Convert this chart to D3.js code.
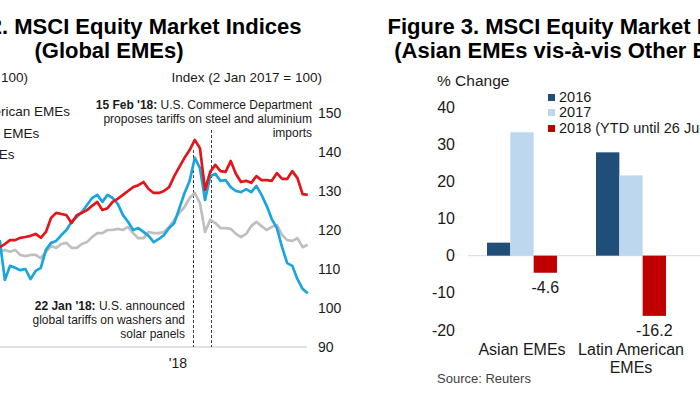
<!DOCTYPE html>
<html>
<head>
<meta charset="utf-8">
<script src="https://cdnjs.cloudflare.com/ajax/libs/d3/7.8.5/d3.min.js"></script>
<style>
  body { margin: 0; background: #fff; }
  svg { display: block; font-family: Arial, "Liberation Sans", sans-serif; }
</style>
</head>
<body>
<svg id="chart" width="700" height="397"></svg>
<script>
// ---- figure 2 data : weekly samples, index (2 Jan 2017 = 100)
var lineStart = "2017-05-03";   // first visible sample, then one point every 7 days
var latamEMEs = [117.4,107.2,110.8,110.3,109.7,110.0,107.4,109.5,110.3,114.9,116.7,117.2,118.7,120.0,122.1,123.3,124.6,126.4,128.2,129.0,
                 127.2,129.0,128.2,126.7,123.8,122.1,120.0,120.5,119.5,118.5,116.9,117.7,118.7,120.5,121.8,125.6,129.5,132.6,138.5,135.9,
                 127.7,133.8,134.4,132.6,132.8,131.0,130.0,129.7,130.5,129.7,131.3,129.0,126.2,122.8,120.5,115.6,111.5,110.8,107.4,104.9,103.8];
var europeEMEs = [114.4,114.9,114.4,114.9,113.6,113.3,113.6,113.6,112.8,114.4,115.9,115.4,116.4,116.7,115.4,115.4,116.4,116.9,118.2,119.2,
                  119.2,120.0,120.0,120.3,120.0,120.8,119.2,117.9,117.9,119.5,119.2,119.2,119.5,120.8,122.6,124.4,125.9,128.2,129.5,126.9,
                  119.5,122.6,121.8,120.5,120.5,120.3,119.0,118.2,119.0,121.0,122.1,121.0,120.0,120.8,121.3,118.7,117.4,117.2,117.9,115.6,116.2];
var asiaEMEs = [115.6,116.4,117.4,117.4,118.0,118.2,118.5,119.0,118.0,119.5,123.1,124.4,124.1,123.8,121.8,123.8,124.4,125.1,126.2,127.2,
                125.1,125.6,127.2,128.0,129.0,130.0,131.0,131.5,132.3,130.5,129.5,129.5,130.0,131.0,133.8,136.2,138.5,140.5,143.1,141.0,
                130.3,134.9,136.7,135.1,134.9,137.7,134.4,132.3,132.6,132.1,133.8,132.8,132.8,132.6,134.6,133.1,133.1,135.1,133.3,129.2,129.0];
var lineNames = ["Latin American EMEs", "European EMEs", "Asian EMEs"];
var lineColors = ["#1BA5DF", "#BFBFBF", "#E3151B"];
var yTicksLeft = [90, 100, 110, 120, 130, 140, 150];
var yearTicks = [{date: "2018-01-01", label: "'18"}];
var events = [
  {date: "2018-01-22", top: 150, bold: "22 Jan '18:", lines: [" U.S. announced", "global tariffs on washers and", "solar panels"]},
  {date: "2018-02-15", top: 130, bold: "15 Feb '18:", lines: [" U.S. Commerce Department", "proposes tariffs on steel and aluminium", "imports"]}
];

// ---- figure 3 data : % change
var regions = ["Asian EMEs", "Latin American EMEs", "European EMEs"];
var regionLines = [["Asian EMEs"], ["Latin American", "EMEs"], ["European", "EMEs"]];
var years = ["2016", "2017", "2018 (YTD until 26 Jun 2018)"];
var val2016 = [3.5, 27.8, null];
var val2017 = [33.2, 21.6, null];
var val2018 = [-4.6, -16.2, null];
var barColors = ["#1F4E79", "#BDD7EE", "#C00000"];
var yTicksRight = [-20, -10, 0, 10, 20, 30, 40];

var svg = d3.select("#chart");
var parse = d3.timeParse("%Y-%m-%d");
var font = "Arial, 'Liberation Sans', sans-serif";

// ================= Figure 2 =================
var g2 = svg.append("g").attr("class", "fig2");

g2.append("text").attr("x", 109).attr("y", 34).attr("text-anchor", "middle")
  .attr("font-size", 22).attr("font-weight", "bold").text("Figure 2. MSCI Equity Market Indices");
g2.append("text").attr("x", 109).attr("y", 58).attr("text-anchor", "middle")
  .attr("font-size", 22).attr("font-weight", "bold").text("(Global EMEs)");

var x2 = d3.scaleTime().domain([parse("2017-01-02"), parse("2018-06-26")]).range([-89, 307]);
var y2 = d3.scaleLinear().domain([90, 150]).range([347, 113]);

g2.append("text").attr("x", 28).attr("y", 82).attr("text-anchor", "end")
  .attr("font-size", 13.5).attr("fill", "#1a1a1a").text("Index (2 Jan 2017 = 100)");
g2.append("text").attr("x", 322).attr("y", 82).attr("text-anchor", "end")
  .attr("font-size", 13.5).attr("fill", "#1a1a1a").text("Index (2 Jan 2017 = 100)");

// right axis labels
var yAxis2 = d3.axisRight(y2).tickValues(yTicksLeft).tickSize(0).tickPadding(0);
var ya = g2.append("g").attr("transform", "translate(318,0)").call(yAxis2);
ya.select(".domain").remove();
ya.selectAll("text").attr("font-size", 14).attr("fill", "#1a1a1a").attr("font-family", font);

// x axis line and year label
g2.append("line").attr("x1", x2.range()[0]).attr("x2", x2.range()[1])
  .attr("y1", y2(90)).attr("y2", y2(90)).attr("stroke", "#D9D9D9").attr("stroke-width", 1.5);
g2.selectAll("text.year").data(yearTicks).enter().append("text")
  .attr("class", "year")
  .attr("x", function(d){ return x2(parse(d.date)); })
  .attr("y", 368).attr("text-anchor", "middle").attr("font-size", 14).attr("fill", "#1a1a1a")
  .text(function(d){ return d.label; });

// event lines
g2.selectAll("line.event").data(events).enter().append("line")
  .attr("class", "event")
  .attr("x1", function(d){ return Math.round(x2(parse(d.date))) + 0.5; })
  .attr("x2", function(d){ return Math.round(x2(parse(d.date))) + 0.5; })
  .attr("y1", function(d){ return d.top; }).attr("y2", y2(90))
  .attr("stroke", "#404040").attr("stroke-width", 1).attr("stroke-dasharray", "3,2");

// annotations
var notes = [
  {ev: events[0], x: 185, y: 310},
  {ev: events[1], x: 312, y: 109}
];
notes.forEach(function(n){
  var t = g2.append("text").attr("font-size", 12).attr("fill", "#1a1a1a").attr("text-anchor", "end");
  n.ev.lines.forEach(function(line, i){
    var ts = t.append("tspan").attr("x", n.x).attr("y", n.y + i * 14);
    if(i == 0)
    {
      ts.append("tspan").attr("font-weight", "bold").text(n.ev.bold);
      ts.append("tspan").text(line);
    }
    else
    {
      ts.text(line);
    }
  });
});

// lines
var start = parse(lineStart);
var seriesList = [latamEMEs, europeEMEs, asiaEMEs].map(function(vals, s){
  return {name: lineNames[s], color: lineColors[s], values: vals.map(function(v, i){
    return {date: d3.timeDay.offset(start, i * 7), value: v};
  })};
});
var line2 = d3.line().x(function(d){ return x2(d.date); }).y(function(d){ return y2(d.value); });
var drawOrder = [1, 0, 2];
drawOrder.forEach(function(s){
  g2.append("path").datum(seriesList[s].values)
    .attr("d", line2).attr("fill", "none")
    .attr("stroke", seriesList[s].color).attr("stroke-width", 2.7)
    .attr("stroke-linejoin", "round");
});

// legend (mostly outside the visible area)
var leg2 = g2.selectAll("g.leg").data(seriesList).enter().append("g")
  .attr("class", "leg")
  .attr("transform", function(d, i){ return "translate(-59," + (116 + i * 21.5) + ")"; });
leg2.append("line").attr("x1", -26).attr("x2", -6).attr("y1", -5).attr("y2", -5)
  .attr("stroke", function(d){ return d.color; }).attr("stroke-width", 2.7);
leg2.append("text").attr("x", 0).attr("y", 0).attr("font-size", 13.5).attr("fill", "#1a1a1a")
  .text(function(d){ return d.name; });

// ================= Figure 3 =================
var g3 = svg.append("g").attr("class", "fig3");

g3.append("text").attr("x", 580).attr("y", 34).attr("text-anchor", "middle")
  .attr("font-size", 22).attr("font-weight", "bold").text("Figure 3. MSCI Equity Market Indices");
g3.append("text").attr("x", 577).attr("y", 58).attr("text-anchor", "middle")
  .attr("font-size", 22).attr("font-weight", "bold").text("(Asian EMEs vis-à-vis Other EMEs)");

var y3 = d3.scaleLinear().domain([-20, 40]).range([330, 107]);
var x3 = d3.scaleBand().domain(regions).range([467.5, 467.5 + 3 * 109]).paddingInner(0.358).paddingOuter(0.179);
var xs3 = d3.scaleBand().domain(years).range([0, x3.bandwidth()]);
var hyphen = function(v){ return String(v).replace("\u2212", "-"); };

g3.append("text").attr("x", 437).attr("y", 86).attr("font-size", 15.5).attr("fill", "#1a1a1a").text("% Change");

var yAxis3 = d3.axisLeft(y3).tickValues(yTicksRight).tickSize(0).tickPadding(0)
  .tickFormat(function(d){ return hyphen(d); });
var ya3 = g3.append("g").attr("transform", "translate(455,0)").call(yAxis3);
ya3.select(".domain").remove();
ya3.selectAll("text").attr("font-size", 16).attr("fill", "#1a1a1a").attr("font-family", font);

g3.append("line").attr("x1", 468).attr("x2", 800).attr("y1", y3(0)).attr("y2", y3(0))
  .attr("stroke", "#D9D9D9").attr("stroke-width", 1);

var barData = [];
regions.forEach(function(r, i){
  [val2016, val2017, val2018].forEach(function(arr, k){
    if(arr[i] != null) barData.push({region: r, year: years[k], value: arr[i], k: k});
  });
});

var groups = g3.selectAll("g.group").data(regions).enter().append("g")
  .attr("class", "group")
  .attr("transform", function(d){ return "translate(" + x3(d) + ",0)"; });

groups.selectAll("rect").data(function(r){ return barData.filter(function(b){ return b.region == r; }); })
  .enter().append("rect")
  .attr("x", function(d){ return xs3(d.year); })
  .attr("width", xs3.bandwidth())
  .attr("y", function(d){ return y3(Math.max(0, d.value)); })
  .attr("height", function(d){ return Math.abs(y3(d.value) - y3(0)); })
  .attr("fill", function(d){ return barColors[d.k]; });

// value labels for 2018
groups.selectAll("text.val").data(function(r){ return barData.filter(function(b){ return b.region == r && b.k == 2; }); })
  .enter().append("text")
  .attr("class", "val")
  .attr("x", function(d){ return xs3(d.year) + xs3.bandwidth() / 2; })
  .attr("y", function(d){ return y3(d.value) + 20; })
  .attr("text-anchor", "middle").attr("font-size", 16).attr("fill", "#1a1a1a")
  .text(function(d){ return hyphen(d3.format(".1f")(d.value)); });

// category labels
groups.append("text")
  .attr("text-anchor", "middle").attr("font-size", 16).attr("fill", "#1a1a1a")
  .each(function(r, i){
    var t = d3.select(this);
    regionLines[i].forEach(function(line, j){
      t.append("tspan").attr("x", x3.bandwidth() / 2).attr("y", 355 + j * 18).text(line);
    });
  });

// legend
var leg3 = g3.selectAll("g.leg3").data(years).enter().append("g")
  .attr("class", "leg3")
  .attr("transform", function(d, i){ return "translate(548," + [102, 117, 133][i] + ")"; });
leg3.append("rect").attr("x", 0).attr("y", -8).attr("width", 7).attr("height", 7)
  .attr("fill", function(d, i){ return barColors[i]; });
leg3.append("text").attr("x", 11).attr("y", 0).attr("font-size", 14.5).attr("fill", "#1a1a1a")
  .text(function(d){ return d; });

g3.append("text").attr("x", 437).attr("y", 383).attr("font-size", 13).attr("fill", "#404040").text("Source: Reuters");
</script>
</body>
</html>
